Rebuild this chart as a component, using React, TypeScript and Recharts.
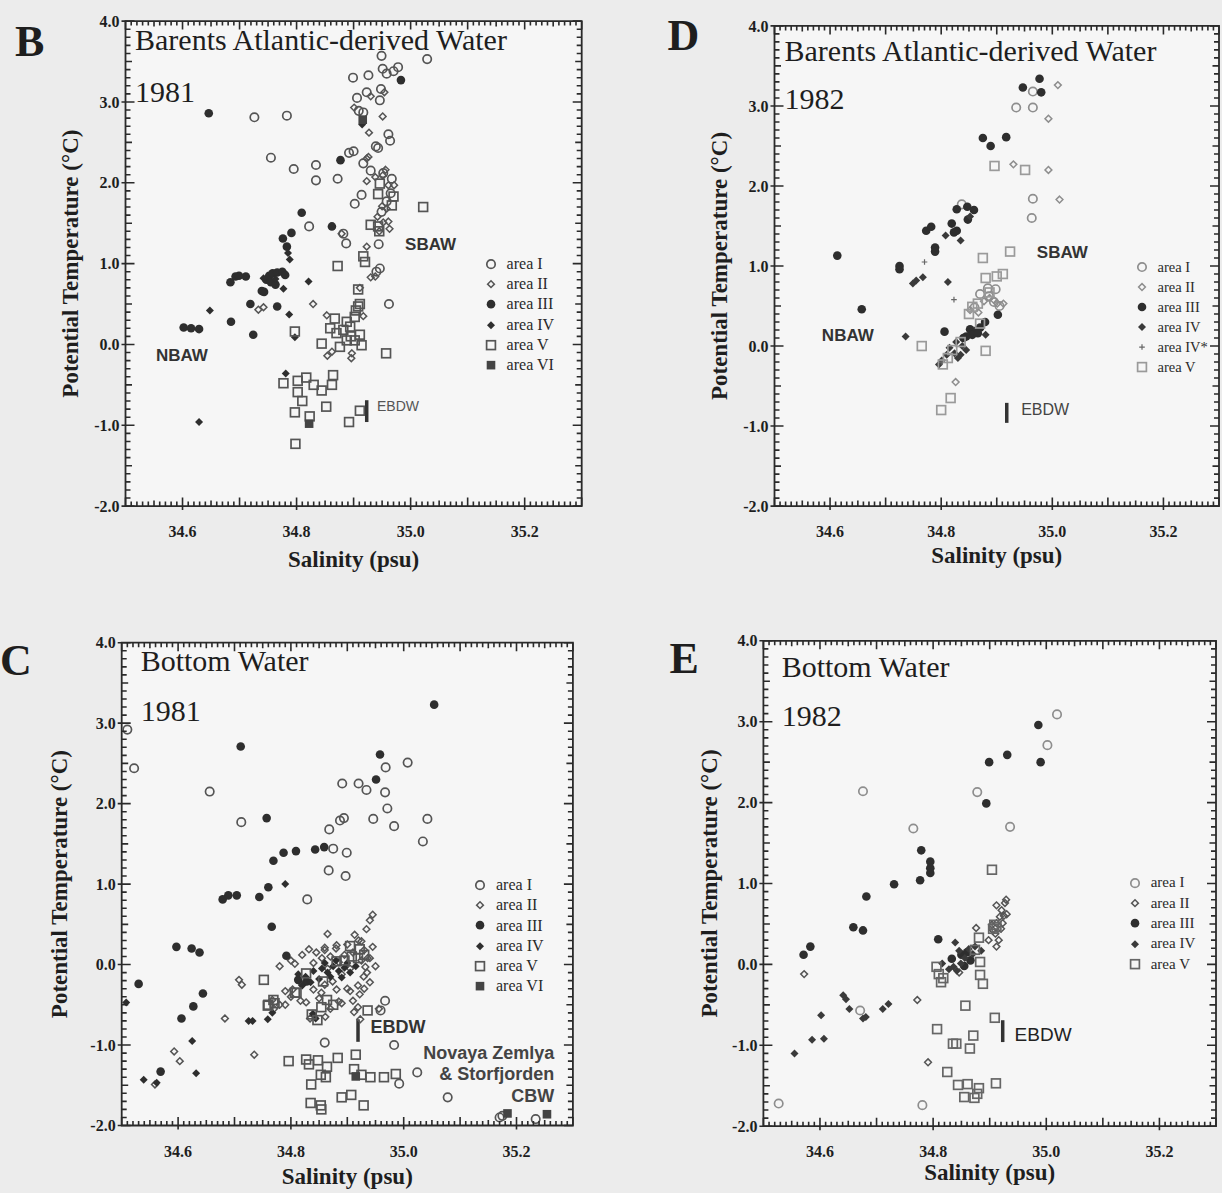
import React from 'react';
import { ScatterChart, Scatter, XAxis, YAxis, ReferenceArea, ReferenceLine, ReferenceDot, Legend } from 'recharts';

type Pt = [number, number];

// tick labels
const xLabels = [34.6, 34.8, 35.0, 35.2];
const xTicks = Array.from({ length: 81 }, (_, i) => (3450 + i) / 100);
const yTicks = Array.from({ length: 61 }, (_, i) => (i - 20) / 10);

// ---- B : Barents Atlantic-derived Water 1981 ----
const b1: Pt[] = [[35.029,3.53],[34.949,3.57],[34.951,3.41],[34.958,3.35],[34.978,3.43],[34.970,3.38],[34.899,3.30],[34.926,3.33],[34.906,3.05],[34.923,3.12],[34.948,3.16],[34.946,3.02],[34.726,2.81],[34.783,2.83],[34.909,2.89],[34.917,2.87],[34.961,2.60],[34.964,2.52],[34.892,2.37],[34.900,2.39],[34.943,2.43],[34.939,2.45],[34.755,2.31],[34.834,2.22],[34.795,2.17],[34.834,2.03],[34.872,2.05],[34.917,2.24],[34.952,2.12],[34.967,2.05],[34.965,1.87],[34.914,1.85],[34.902,1.74],[34.949,1.64],[34.822,1.46],[34.882,1.37],[34.887,1.25],[34.944,1.24],[34.962,0.50],[34.940,0.90],[34.946,0.94],[34.958,1.77],[34.930,2.15]];
const b2: Pt[] = [[34.951,2.82],[34.930,3.07],[34.954,3.12],[34.927,2.62],[34.923,2.30],[34.938,2.07],[34.926,2.32],[34.956,2.16],[34.951,2.09],[34.923,2.02],[34.961,1.97],[34.958,1.68],[34.950,1.71],[34.961,1.52],[34.963,1.43],[34.942,1.58],[34.952,1.51],[34.923,1.21],[34.938,0.84],[34.930,0.83],[34.879,1.37],[34.829,0.50],[34.742,0.46],[34.733,0.43],[34.917,0.35],[34.853,0.36],[34.896,-0.17],[34.854,-0.14],[34.862,-0.09],[34.897,-0.11],[34.901,2.93],[34.971,1.97],[34.945,1.40],[34.911,0.70]];
const b3: Pt[] = [[34.646,2.86],[34.983,3.27],[34.877,2.28],[34.809,1.63],[34.862,1.46],[34.791,1.38],[34.776,1.31],[34.783,1.21],[34.684,0.77],[34.693,0.84],[34.711,0.84],[34.699,0.85],[34.602,0.21],[34.615,0.20],[34.629,0.19],[34.747,0.80],[34.752,0.85],[34.758,0.88],[34.766,0.89],[34.775,0.90],[34.755,0.77],[34.763,0.74],[34.743,0.65],[34.739,0.66],[34.766,0.47],[34.719,0.50],[34.685,0.28],[34.724,0.12],[34.780,0.86]];
const b4: Pt[] = [[34.787,0.37],[34.821,0.78],[34.777,0.69],[34.629,-0.96],[34.648,0.42],[34.785,1.13],[34.788,1.05],[34.763,0.81],[34.781,-0.36],[34.797,0.09],[34.915,2.72],[34.742,0.82]];
const b5: Pt[] = [[34.872,0.97],[34.917,1.09],[34.920,1.02],[34.908,0.68],[34.911,0.50],[34.904,0.42],[34.867,0.32],[34.882,0.18],[34.894,0.22],[34.902,0.34],[34.908,0.47],[34.888,0.05],[34.902,0.05],[34.911,0.12],[34.876,-0.03],[34.914,-0.01],[34.870,0.14],[34.859,0.20],[34.844,0.01],[34.797,0.16],[34.957,-0.11],[35.022,1.70],[34.946,1.99],[34.943,1.86],[34.970,1.83],[34.967,1.72],[34.943,1.46],[34.930,1.48],[34.945,1.40],[34.777,-0.48],[34.802,-0.45],[34.817,-0.41],[34.830,-0.50],[34.844,-0.57],[34.802,-0.59],[34.810,-0.70],[34.797,-0.84],[34.823,-0.89],[34.852,-0.77],[34.864,-0.38],[34.862,-0.50],[34.911,-0.82],[34.892,-0.96],[34.798,-1.23],[34.888,0.28],[34.895,0.10]];
const b6: Pt[] = [[34.822,-0.98],[34.916,2.78]];

// ---- D : Barents Atlantic-derived Water 1982 ----
const d1: Pt[] = [[34.965,2.98],[34.935,2.98],[34.965,3.18],[34.963,1.60],[34.965,1.84],[34.884,0.72],[34.898,0.71],[34.837,1.77],[34.870,0.65],[34.886,0.62],[34.895,0.55],[34.905,0.50],[34.860,0.48]];
const d2: Pt[] = [[35.010,3.26],[34.993,2.84],[34.993,2.20],[34.930,2.27],[35.013,1.83],[34.826,-0.45],[34.867,0.42],[34.887,0.60],[34.894,0.58],[34.901,0.53],[34.912,0.53],[34.877,0.56],[34.852,0.45]];
const d3: Pt[] = [[34.977,3.34],[34.947,3.23],[34.980,3.17],[34.875,2.60],[34.889,2.50],[34.917,2.61],[34.613,1.13],[34.657,0.46],[34.725,1.00],[34.725,0.96],[34.773,1.44],[34.782,1.49],[34.789,1.18],[34.789,1.23],[34.819,1.53],[34.828,1.71],[34.847,1.74],[34.859,1.70],[34.848,1.58],[34.823,1.42],[34.828,1.44],[34.902,0.39],[34.806,0.18],[34.852,0.21],[34.863,0.19],[34.856,0.14],[34.845,0.12],[34.870,0.23],[34.879,0.30],[34.840,0.10],[34.866,0.16]];
const d4: Pt[] = [[34.812,0.80],[34.835,1.32],[34.808,1.38],[34.736,0.12],[34.749,0.78],[34.755,0.82],[34.767,0.86],[34.810,-0.11],[34.824,-0.09],[34.835,-0.11],[34.801,-0.18],[34.796,-0.23],[34.838,0.00],[34.827,0.05],[34.852,1.62],[34.880,0.14],[34.815,-0.02],[34.830,-0.15],[34.845,-0.05]];
const d4s: Pt[] = [[34.770,1.05],[34.823,0.58],[34.800,-0.20]];
const d5: Pt[] = [[34.896,2.25],[34.951,2.20],[34.924,1.18],[34.875,1.10],[34.880,0.85],[34.900,0.87],[34.911,0.90],[34.856,0.49],[34.866,0.53],[34.887,0.67],[34.880,-0.06],[34.765,0.00],[34.817,-0.65],[34.800,-0.80],[34.803,-0.23],[34.870,0.28],[34.850,0.40],[34.820,-0.05],[34.835,0.05],[34.812,-0.15]];

// ---- C : Bottom Water 1981 ----
const c1: Pt[] = [[34.510,2.92],[34.522,2.44],[34.656,2.15],[34.712,1.77],[34.891,2.25],[34.920,2.25],[34.934,2.17],[34.968,2.45],[35.007,2.51],[34.967,2.14],[34.971,1.94],[34.946,1.81],[34.983,1.72],[35.042,1.81],[35.034,1.53],[34.887,1.79],[34.894,1.82],[34.868,1.68],[34.875,1.44],[34.899,1.39],[34.867,1.17],[34.897,1.10],[34.829,0.81],[34.983,-1.00],[34.860,-0.97],[35.024,-1.34],[34.992,-1.48],[35.078,-1.65],[35.170,-1.90],[35.234,-1.92],[34.967,-0.45],[34.959,-0.57],[35.175,-1.88]];
const c2: Pt[] = [[34.945,0.62],[34.940,0.55],[34.934,0.44],[34.865,0.38],[34.832,0.19],[34.860,0.21],[34.881,0.24],[34.913,0.37],[34.925,0.29],[34.936,0.08],[34.932,-0.03],[34.929,-0.15],[34.919,-0.26],[34.922,-0.37],[34.905,-0.33],[34.919,-0.53],[34.912,-0.59],[34.923,-0.68],[34.956,-0.55],[34.683,-0.67],[34.735,-1.12],[34.593,-1.08],[34.603,-1.20],[34.559,-1.49],[34.817,-0.45],[34.827,-0.47],[34.803,-0.31],[34.780,-0.50],[34.767,-0.44],[34.790,-0.33],[34.807,0.01],[34.840,-0.31],[34.854,-0.35],[34.834,-0.67],[34.861,-0.65],[34.874,-0.21],[34.881,-0.31],[34.708,-0.19],[34.713,-0.25],[34.885,-0.46],[34.780,-0.02],[34.800,0.05],[34.820,0.12],[34.840,0.02],[34.845,0.15],[34.855,0.08],[34.860,0.18],[34.870,0.10],[34.880,0.20],[34.885,0.03],[34.895,0.12],[34.900,0.25],[34.910,0.15],[34.920,0.30],[34.925,0.05],[34.930,0.18],[34.940,0.08],[34.945,0.22],[34.950,-0.02],[34.940,-0.22],[34.930,-0.30],[34.910,-0.45],[34.900,-0.30],[34.860,-0.25],[34.820,-0.25],[34.800,-0.40],[34.790,-0.50],[34.770,-0.55],[34.850,-0.42],[34.870,-0.55],[34.890,-0.48],[34.865,-0.05],[34.890,-0.12],[34.905,-0.05],[34.935,-0.10]];
const c3: Pt[] = [[35.054,3.23],[34.711,2.71],[34.958,2.61],[34.951,2.30],[34.757,1.82],[34.769,1.29],[34.787,1.39],[34.809,1.41],[34.843,1.43],[34.859,1.46],[34.679,0.81],[34.689,0.86],[34.704,0.86],[34.744,0.84],[34.760,0.96],[34.766,0.47],[34.597,0.22],[34.624,0.20],[34.638,0.15],[34.792,0.11],[34.530,-0.24],[34.644,-0.36],[34.627,-0.52],[34.606,-0.67],[34.569,-1.33],[34.813,-0.19],[34.828,-0.21]];
const c4: Pt[] = [[34.508,-0.47],[34.539,-1.43],[34.562,-1.47],[34.625,-0.95],[34.632,-1.35],[34.790,1.00],[34.725,-0.70],[34.732,-0.70],[34.759,-0.68],[34.767,-0.60],[34.839,-0.61],[34.844,-0.67],[34.813,-0.12],[34.826,-0.15],[34.840,-0.08],[34.855,-0.05],[34.865,-0.10],[34.875,-0.02],[34.885,-0.08],[34.895,-0.04],[34.905,-0.10],[34.915,-0.02],[34.850,-0.18],[34.870,-0.15],[34.890,-0.16],[34.835,-0.22],[34.820,-0.26],[34.880,0.05],[34.900,0.02],[34.860,0.02]];
const c5: Pt[] = [[34.752,-0.19],[34.759,-0.51],[34.771,-0.48],[34.810,-0.35],[34.827,-0.11],[34.854,-0.53],[34.864,-0.44],[34.857,-0.21],[34.881,0.04],[34.905,0.23],[34.919,0.08],[34.908,0.10],[34.922,0.19],[34.936,-0.57],[34.847,-0.69],[34.837,-0.62],[34.796,-1.20],[34.827,-1.18],[34.848,-1.19],[34.883,-1.16],[34.915,-1.12],[34.832,-1.24],[34.864,-1.27],[34.853,-1.37],[34.862,-1.40],[34.836,-1.49],[34.912,-1.30],[34.925,-1.37],[34.941,-1.40],[34.965,-1.40],[34.986,-1.36],[34.890,-1.65],[34.907,-1.62],[34.929,-1.75],[34.835,-1.72],[34.853,-1.75],[34.854,-1.80],[34.760,-0.50],[34.769,-0.44],[34.807,-0.35],[34.895,0.05],[34.930,0.12],[34.875,-0.50]];
const c6: Pt[] = [[34.915,-1.39],[35.184,-1.85],[35.254,-1.86]];

// ---- E : Bottom Water 1982 ----
const e1: Pt[] = [[35.019,3.09],[35.002,2.71],[34.676,2.14],[34.878,2.13],[34.936,1.70],[34.765,1.68],[34.527,-1.72],[34.781,-1.74],[34.671,-0.57]];
const e2: Pt[] = [[34.572,-0.12],[34.772,-0.44],[34.791,-1.21],[34.929,0.80],[34.912,0.73],[34.921,0.67],[34.918,0.59],[34.912,0.51],[34.923,0.51],[34.904,0.49],[34.910,0.38],[34.916,0.30],[34.912,0.22],[34.876,0.45],[34.846,-0.10],[34.927,0.76],[34.925,0.60],[34.930,0.62],[34.920,0.44],[34.906,0.42],[34.898,0.30]];
const e3: Pt[] = [[34.986,2.96],[34.931,2.59],[34.899,2.50],[34.990,2.50],[34.894,1.99],[34.779,1.41],[34.795,1.27],[34.795,1.19],[34.795,1.13],[34.777,1.04],[34.731,0.99],[34.682,0.84],[34.659,0.46],[34.676,0.42],[34.583,0.22],[34.571,0.12],[34.809,0.31],[34.833,0.07],[34.850,0.12],[34.860,0.15],[34.866,0.05],[34.855,-0.02]];
const e4: Pt[] = [[34.555,-1.10],[34.586,-0.93],[34.607,-0.92],[34.602,-0.63],[34.641,-0.38],[34.646,-0.43],[34.652,-0.55],[34.681,-0.65],[34.711,-0.55],[34.721,-0.49],[34.839,0.27],[34.816,0.01],[34.828,-0.06],[34.846,0.17],[34.856,0.08],[34.863,0.19],[34.874,0.22],[34.849,0.01],[34.885,0.17],[34.842,-0.08],[34.836,-0.03],[34.870,0.13],[34.676,-0.67]];
const e5: Pt[] = [[34.904,1.17],[34.908,0.49],[34.906,0.44],[34.881,0.33],[34.874,0.18],[34.883,0.03],[34.883,-0.13],[34.888,-0.24],[34.806,-0.03],[34.810,-0.12],[34.814,-0.22],[34.818,-0.17],[34.857,-0.51],[34.909,-0.66],[34.807,-0.80],[34.835,-0.98],[34.841,-0.98],[34.871,-0.88],[34.865,-1.04],[34.825,-1.33],[34.844,-1.49],[34.861,-1.48],[34.881,-1.53],[34.855,-1.64],[34.873,-1.65],[34.911,-1.47],[34.878,-1.60],[34.912,0.46]];

const SERIF = '"Liberation Serif", "Times New Roman", serif';
const SANS = '"Liberation Sans", Arial, sans-serif';
const INK = '#1e1e1e';
const AX = '#2a2a2a';
const XH = 64;
const YW = 70;

type MarkKind = 'ring' | 'openDiamond' | 'dot' | 'solidDiamond' | 'box' | 'solidBox' | 'plus';

const mark = (kind: MarkKind, color: string, cx: number, cy: number) => {
  switch (kind) {
    case 'ring':
      return <circle cx={cx} cy={cy} r={4.2} fill="none" stroke={color} strokeWidth={1.7} />;
    case 'openDiamond':
      return <path d={`M${cx},${cy - 3.4}L${cx + 3.4},${cy}L${cx},${cy + 3.4}L${cx - 3.4},${cy}Z`} fill="none" stroke={color} strokeWidth={1.5} />;
    case 'dot':
      return <circle cx={cx} cy={cy} r={4.3} fill={color} />;
    case 'solidDiamond':
      return <path d={`M${cx},${cy - 4}L${cx + 4},${cy}L${cx},${cy + 4}L${cx - 4},${cy}Z`} fill={color} />;
    case 'box':
      return <rect x={cx - 4.4} y={cy - 4.4} width={8.8} height={8.8} fill="none" stroke={color} strokeWidth={1.7} />;
    case 'solidBox':
      return <rect x={cx - 4.3} y={cy - 4.3} width={8.6} height={8.6} fill={color} />;
    default:
      return (
        <path d={`M${cx - 2.8},${cy}H${cx + 2.8}M${cx},${cy - 2.8}V${cy + 2.8}`} stroke={color} strokeWidth={1.2} />
      );
  }
};

type Series = { name: string; data: Pt[]; kind: MarkKind; color: string };
type Note = { x: number; y: number; text: string; size: number; weight?: string; family?: string; anchor?: 'start' | 'middle' | 'end'; color?: string };

interface PanelDef {
  letter: string;
  title: string;
  year: string;
  box: { left: number; top: number; width: number; height: number };
  plot: { x: number; y: number; w: number; h: number };
  head: { letterDx: number; letterDy: number; dx: number; titleDy: number; yearDy: number };
  xLabelBase: number;
  yLabelDx: number;
  series: Series[];
  notes: Note[];
  bar: [number, number, number];
  legend: { x: number; y: number; size: number; row: number };
}

// inward comb ticks on bottom and top edges, labels under the majors
const XTick = (props: any) => {
  const { x, y, payload, plotH } = props;
  const v = payload.value as number;
  const k = Math.round(v * 100);
  const len = k % 10 === 0 ? 8.5 : k % 5 === 0 ? 5.5 : 4.5;
  const lab = xLabels.some((l) => Math.abs(l - v) < 1e-6);
  const top = y - plotH;
  return (
    <g>
      <path d={`M${x},${y + (lab ? 4 : 0)}V${y - len}M${x},${top}V${top + len}`} stroke={AX} strokeWidth={1.6} fill="none" />
      {lab && (
        <text x={x} y={y + 31} textAnchor="middle" fontFamily={SERIF} fontSize={16} fontWeight="bold" fill={INK}>
          {v.toFixed(1)}
        </text>
      )}
    </g>
  );
};

// inward comb ticks on left and right edges
const YTick = (props: any) => {
  const { x, y, payload, plotW } = props;
  const v = payload.value as number;
  const k = Math.round(v * 10);
  const major = k % 10 === 0;
  const len = major ? 9 : k % 5 === 0 ? 6.5 : 5;
  const right = x + plotW;
  return (
    <g>
      <path d={`M${x - (major ? 4 : 0)},${y}H${x + len}M${right},${y}H${right - len}`} stroke={AX} strokeWidth={1.6} fill="none" />
      {major && (
        <text x={x - 6} y={y} dy="0.35em" textAnchor="end" fontFamily={SERIF} fontSize={16} fontWeight="bold" fill={INK}>
          {v.toFixed(1)}
        </text>
      )}
    </g>
  );
};

const Panel = ({ def }: { def: PanelDef }) => {
  const { box, plot, head, series, notes, bar, legend } = def;
  const mLeft = plot.x - box.left - YW;
  const mTop = plot.y - box.top;
  const mRight = box.width - (plot.x - box.left) - plot.w;
  const mBottom = box.height - mTop - plot.h - XH;

  return (
    <div style={{ position: 'absolute', left: box.left, top: box.top, width: box.width, height: box.height }}>
      {/* paper inside the frame */}
      <div
        style={{
          position: 'absolute',
          left: plot.x - box.left,
          top: plot.y - box.top,
          width: plot.w,
          height: plot.h,
          background: '#f6f6f6',
        }}
      />
      <ScatterChart width={box.width} height={box.height} margin={{ top: mTop, right: mRight, bottom: mBottom, left: mLeft }}>
        <ReferenceArea x1={34.5} x2={35.3} y1={-2} y2={4} fill="none" stroke={AX} strokeWidth={1.8} ifOverflow="visible" />
        <XAxis
          type="number"
          dataKey="s"
          domain={[34.5, 35.3]}
          allowDataOverflow
          ticks={xTicks}
          interval={0}
          tickSize={0}
          tickMargin={0}
          axisLine={false}
          tickLine={false}
          height={XH}
          tick={(p: any) => <XTick {...p} plotH={plot.h} />}
          label={{ value: 'Salinity (psu)', position: 'insideBottom', offset: XH - def.xLabelBase, fontFamily: SERIF, fontSize: 23, fontWeight: 'bold', fill: INK }}
        />
        <YAxis
          type="number"
          dataKey="t"
          domain={[-2, 4]}
          allowDataOverflow
          ticks={yTicks}
          interval={0}
          tickSize={0}
          tickMargin={0}
          axisLine={false}
          tickLine={false}
          width={YW}
          tick={(p: any) => <YTick {...p} plotW={plot.w} />}
          label={{ value: 'Potential Temperature (°C)', angle: -90, position: 'insideLeft', offset: YW + def.yLabelDx, fontFamily: SERIF, fontSize: 23, fontWeight: 'bold', fill: INK, style: { textAnchor: 'middle' } }}
        />
        {series.map((s) => (
          <Scatter
            key={s.name}
            name={s.name}
            data={s.data.map(([sv, tv]) => ({ s: sv, t: tv }))}
            fill={s.color}
            isAnimationActive={false}
            shape={(p: any) => mark(s.kind, s.color, p.cx, p.cy)}
          />
        ))}
        <ReferenceLine
          segment={[{ x: bar[0], y: bar[1] }, { x: bar[0], y: bar[2] }]}
          stroke="#333"
          strokeWidth={3.5}
          ifOverflow="visible"
        />
        {notes.map((n, i) => (
          <ReferenceDot
            key={i}
            x={n.x}
            y={n.y}
            r={0}
            ifOverflow="visible"
            shape={(p: any) => (
              <text
                x={p.cx}
                y={p.cy}
                dy="0.35em"
                textAnchor={n.anchor ?? 'middle'}
                fontFamily={n.family ?? SANS}
                fontSize={n.size}
                fontWeight={n.weight ?? 'bold'}
                fill={n.color ?? '#333'}
              >
                {n.text}
              </text>
            )}
          />
        ))}
        <ReferenceDot
          x={34.5}
          y={4}
          r={0}
          ifOverflow="visible"
          shape={(p: any) => (
            <g fontFamily={SERIF} fill={INK}>
              <text x={p.cx + head.letterDx} y={p.cy + head.letterDy} fontSize={44} fontWeight="bold">
                {def.letter}
              </text>
              <text x={p.cx + head.dx} y={p.cy + head.titleDy} fontSize={30}>
                {def.title}
              </text>
              <text x={p.cx + head.dx} y={p.cy + head.yearDy} fontSize={30}>
                {def.year}
              </text>
            </g>
          )}
        />
        <Legend
          layout="horizontal"
          align="center"
          verticalAlign="middle"
          wrapperStyle={{
            position: 'absolute',
            left: legend.x - box.left - 8,
            top: legend.y - box.top - legend.row / 2,
            width: 110,
            height: legend.row * series.length,
          }}
          content={(props: any) => (
            <div>
              {(props.payload || []).map((e: any) => {
                const s = series.find((q) => q.name === e.value);
                if (!s) return null;
                return (
                  <div key={s.name} style={{ display: 'flex', alignItems: 'center', height: legend.row }}>
                    <svg width={16} height={legend.row} style={{ display: 'block' }}>
                      {mark(s.kind, s.color, 8, legend.row / 2)}
                    </svg>
                    <span style={{ marginLeft: 8, fontFamily: SERIF, fontSize: legend.size, color: '#2a2a2a', lineHeight: 1 }}>{s.name}</span>
                  </div>
                );
              })}
            </div>
          )}
        />
      </ScatterChart>
    </div>
  );
};

const GRAY = '#555';
const DARK = '#2e2e2e';
const LIGHT = '#8e8e8e';

const panels: PanelDef[] = [
  {
    letter: 'B',
    title: 'Barents Atlantic-derived Water',
    year: '1981',
    box: { left: 0, top: 0, width: 611, height: 600 },
    plot: { x: 125.5, y: 21.1, w: 456.2, h: 485 },
    head: { letterDx: -110.5, letterDy: 34.4, dx: 9.5, titleDy: 29, yearDy: 81 },
    xLabelBase: 61,
    yLabelDx: -55.5,
    series: [
      { name: 'area I', data: b1, kind: 'ring', color: GRAY },
      { name: 'area II', data: b2, kind: 'openDiamond', color: GRAY },
      { name: 'area III', data: b3, kind: 'dot', color: DARK },
      { name: 'area IV', data: b4, kind: 'solidDiamond', color: DARK },
      { name: 'area V', data: b5, kind: 'box', color: GRAY },
      { name: 'area VI', data: b6, kind: 'solidBox', color: '#444' },
    ],
    notes: [
      { x: 35.035, y: 1.24, text: 'SBAW', size: 17 },
      { x: 34.599, y: -0.13, text: 'NBAW', size: 17 },
      { x: 34.941, y: -0.76, text: 'EBDW', size: 14, weight: 'normal', anchor: 'start', color: '#555' },
    ],
    bar: [34.923, -0.69, -0.96],
    legend: { x: 490.6, y: 263.8, size: 16, row: 20.3 },
  },
  {
    letter: 'D',
    title: 'Barents Atlantic-derived Water',
    year: '1982',
    box: { left: 611, top: 0, width: 611, height: 600 },
    plot: { x: 774.5, y: 25.9, w: 444.5, h: 480.2 },
    head: { letterDx: -107, letterDy: 24, dx: 10, titleDy: 35, yearDy: 83 },
    xLabelBase: 57,
    yLabelDx: -55.5,
    series: [
      { name: 'area I', data: d1, kind: 'ring', color: LIGHT },
      { name: 'area II', data: d2, kind: 'openDiamond', color: LIGHT },
      { name: 'area III', data: d3, kind: 'dot', color: DARK },
      { name: 'area IV', data: d4, kind: 'solidDiamond', color: '#3a3a3a' },
      { name: 'area IV*', data: d4s, kind: 'plus', color: '#666' },
      { name: 'area V', data: d5, kind: 'box', color: '#9a9a9a' },
    ],
    notes: [
      { x: 35.018, y: 1.18, text: 'SBAW', size: 17 },
      { x: 34.632, y: 0.14, text: 'NBAW', size: 17 },
      { x: 34.944, y: -0.79, text: 'EBDW', size: 16, weight: 'normal', anchor: 'start', color: '#444' },
    ],
    bar: [34.918, -0.71, -0.96],
    legend: { x: 1141.5, y: 267, size: 14.5, row: 20.1 },
  },
  {
    letter: 'C',
    title: 'Bottom Water',
    year: '1981',
    box: { left: 0, top: 600, width: 611, height: 593 },
    plot: { x: 121.7, y: 642.7, w: 451.2, h: 482.8 },
    head: { letterDx: -121.7, letterDy: 32, dx: 19, titleDy: 28.3, yearDy: 78 },
    xLabelBase: 58,
    yLabelDx: -62.4,
    series: [
      { name: 'area I', data: c1, kind: 'ring', color: GRAY },
      { name: 'area II', data: c2, kind: 'openDiamond', color: GRAY },
      { name: 'area III', data: c3, kind: 'dot', color: DARK },
      { name: 'area IV', data: c4, kind: 'solidDiamond', color: DARK },
      { name: 'area V', data: c5, kind: 'box', color: GRAY },
      { name: 'area VI', data: c6, kind: 'solidBox', color: '#444' },
    ],
    notes: [
      { x: 34.941, y: -0.77, text: 'EBDW', size: 18, anchor: 'start' },
      { x: 35.267, y: -1.09, text: 'Novaya Zemlya', size: 18, anchor: 'end', color: '#444' },
      { x: 35.267, y: -1.36, text: '& Storfjorden', size: 18, anchor: 'end', color: '#444' },
      { x: 35.267, y: -1.63, text: 'CBW', size: 18, anchor: 'end', color: '#444' },
    ],
    bar: [34.919, -0.68, -0.96],
    legend: { x: 480, y: 885, size: 16, row: 20.3 },
  },
  {
    letter: 'E',
    title: 'Bottom Water',
    year: '1982',
    box: { left: 611, top: 600, width: 611, height: 593 },
    plot: { x: 763.4, y: 640.8, w: 452.6, h: 485.4 },
    head: { letterDx: -94, letterDy: 32, dx: 18.3, titleDy: 36, yearDy: 85 },
    xLabelBase: 54,
    yLabelDx: -54.4,
    series: [
      { name: 'area I', data: e1, kind: 'ring', color: LIGHT },
      { name: 'area II', data: e2, kind: 'openDiamond', color: GRAY },
      { name: 'area III', data: e3, kind: 'dot', color: DARK },
      { name: 'area IV', data: e4, kind: 'solidDiamond', color: '#3a3a3a' },
      { name: 'area V', data: e5, kind: 'box', color: '#666' },
    ],
    notes: [{ x: 34.944, y: -0.87, text: 'EBDW', size: 19, weight: 'normal', anchor: 'start', color: '#222' }],
    bar: [34.923, -0.69, -0.96],
    legend: { x: 1134.7, y: 883, size: 15, row: 20.3 },
  },
];

export default function App() {
  return (
    <div style={{ position: 'absolute', left: 0, top: 0, width: 1222, height: 1193, background: '#ececec', overflow: 'hidden' }}>
      {panels.map((p) => (
        <Panel key={p.letter} def={p} />
      ))}
    </div>
  );
}
